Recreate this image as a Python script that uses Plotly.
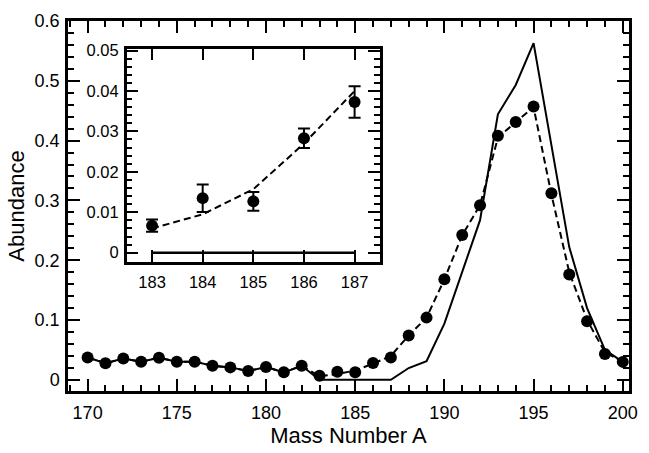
import plotly.graph_objects as go

# ---------------- data ----------------
mass_A = list(range(170, 201))
abundance_data = [0.0373, 0.0277, 0.0355, 0.0304, 0.0370, 0.0304, 0.0304, 0.0234, 0.0208, 0.0146, 0.0215,
                  0.0125, 0.0235, 0.0067, 0.0135, 0.0127, 0.0283, 0.0373, 0.0740, 0.1040, 0.1680,
                  0.2420, 0.2920, 0.4080, 0.4310, 0.4570, 0.3120, 0.1760, 0.0980, 0.0430, 0.0300]
model_solid = [0.0373, 0.0277, 0.0355, 0.0304, 0.0370, 0.0304, 0.0304, 0.0234, 0.0208, 0.0146, 0.0215,
               0.0125, 0.0235, 0.0, 0.0, 0.0, 0.0, 0.0, 0.0197, 0.0310, 0.0940,
               0.1810, 0.2670, 0.4440, 0.4930, 0.5630, 0.3900, 0.2220, 0.1200, 0.0500, 0.0300]
model_dashed = [0.0373, 0.0277, 0.0355, 0.0304, 0.0370, 0.0304, 0.0304, 0.0234, 0.0208, 0.0146, 0.0215,
                0.0125, 0.0235, 0.0060, 0.0095, 0.0157, 0.0270, 0.0400, 0.0740, 0.1040, 0.1680,
                0.2420, 0.2920, 0.4050, 0.4310, 0.4560, 0.3100, 0.1800, 0.1000, 0.0460, 0.0300]

inset_A = [183, 184, 185, 186, 187]
inset_data = [0.0067, 0.0135, 0.0127, 0.0283, 0.0373]
inset_err = [0.0015, 0.0034, 0.0023, 0.0024, 0.0039]
inset_dashed = [0.0060, 0.0095, 0.0157, 0.0270, 0.0400]
inset_solid = [0.0, 0.0, 0.0, 0.0, 0.0]

main_xticks = [170, 175, 180, 185, 190, 195, 200]
main_yticks = [0, 0.1, 0.2, 0.3, 0.4, 0.5, 0.6]
inset_xticks = [183, 184, 185, 186, 187]
inset_yticks = [0, 0.01, 0.02, 0.03, 0.04, 0.05]

FONT = "Liberation Sans, Arial, Helvetica, sans-serif"
BLK = "black"

fig = go.Figure()

# main panel
fig.add_trace(go.Scatter(x=mass_A, y=model_solid, mode="lines",
                         line=dict(color=BLK, width=2), xaxis="x", yaxis="y", showlegend=False))
fig.add_trace(go.Scatter(x=mass_A, y=model_dashed, mode="lines",
                         line=dict(color=BLK, width=2, dash="7px,4px"), xaxis="x", yaxis="y", showlegend=False))
fig.add_trace(go.Scatter(x=mass_A, y=abundance_data, mode="markers",
                         marker=dict(color=BLK, size=12), xaxis="x", yaxis="y", showlegend=False))

# inset panel
fig.add_trace(go.Scatter(x=inset_A, y=inset_solid, mode="lines",
                         line=dict(color=BLK, width=2.5), xaxis="x2", yaxis="y2", showlegend=False))
fig.add_trace(go.Scatter(x=inset_A, y=inset_dashed, mode="lines",
                         line=dict(color=BLK, width=2, dash="7px,4px"), xaxis="x2", yaxis="y2", showlegend=False))
fig.add_trace(go.Scatter(x=inset_A, y=inset_data, mode="markers",
                         marker=dict(color=BLK, size=12),
                         error_y=dict(type="data", array=inset_err, color=BLK, thickness=2, width=6),
                         xaxis="x2", yaxis="y2", showlegend=False))

axis_common = dict(showline=True, linecolor=BLK, linewidth=2.5, mirror="allticks",
                   ticks="inside", tickcolor=BLK, tickwidth=2, ticklen=12,
                   showgrid=False, zeroline=False)

fig.update_layout(
    width=649, height=453,
    margin=dict(l=68, r=11, t=14, b=53),
    paper_bgcolor="white", plot_bgcolor="white",
    font=dict(family=FONT, color=BLK),
    xaxis=dict(domain=[0, 1], range=[168.9, 200.35], tickvals=main_xticks,
               tickfont=dict(size=18), ticklabelstandoff=4,
               minor=dict(dtick=1, tick0=170, ticks="inside", ticklen=6, tickwidth=2, tickcolor=BLK),
               title=dict(text="Mass Number A", font=dict(size=22), standoff=3),
               **axis_common),
    yaxis=dict(domain=[0, 1], range=[-0.0187, 0.6], tickvals=main_yticks,
               ticktext=["0", "0.1", "0.2", "0.3", "0.4", "0.5", "0.6"],
               tickfont=dict(size=18), ticklabelstandoff=2,
               minor=dict(dtick=0.02, tick0=0, ticks="inside", ticklen=6, tickwidth=2, tickcolor=BLK),
               title=dict(text="Abundance", font=dict(size=22), standoff=4),
               **axis_common),
    xaxis2=dict(domain=[0.1047, 0.556], anchor="y2", range=[182.5, 187.5], tickvals=inset_xticks,
                tickfont=dict(size=16.5), ticklabelstandoff=4,
                **axis_common),
    yaxis2=dict(domain=[0.3497, 0.9256], anchor="x2", range=[-0.0022, 0.0505], tickvals=inset_yticks,
                ticktext=["0", "0.01", "0.02", "0.03", "0.04", "0.05"],
                tickfont=dict(size=16.5), ticklabelstandoff=2,
                minor=dict(dtick=0.002, tick0=0, ticks="inside", ticklen=6, tickwidth=2, tickcolor=BLK),
                **axis_common),
)

fig.write_html("out.html")
